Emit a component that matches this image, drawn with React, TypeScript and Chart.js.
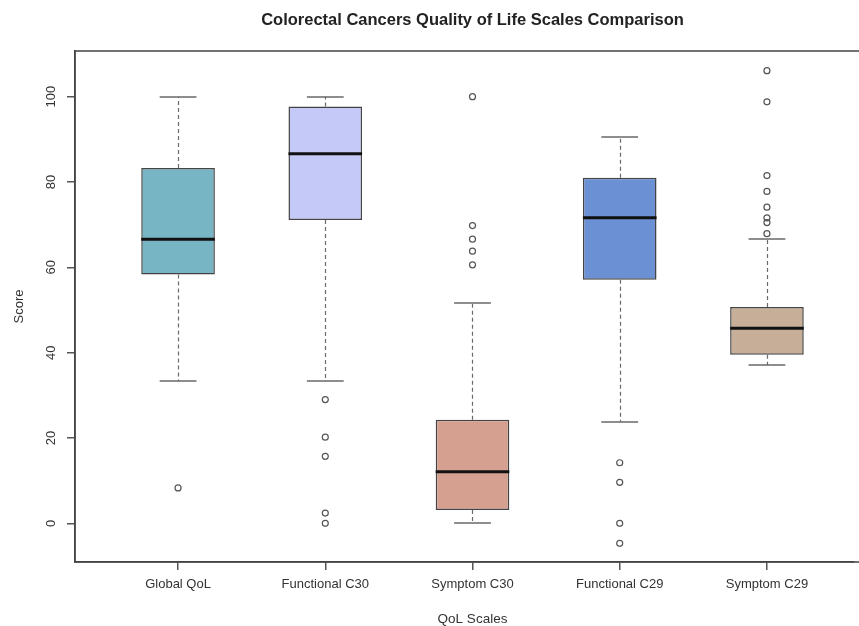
import React, { useEffect, useRef } from "react";
import { Chart, registerables } from "chart.js";

Chart.register(...registerables);

const categories = ["Global QoL", "Functional C30", "Symptom C30", "Functional C29", "Symptom C29"];
const whiskerLow = [33.3, 33.3, 0, 23.8, 37.1];
const q1 = [58.3, 71.1, 3.1, 57.1, 39.5];
const median = [66.6, 86.6, 12.1, 71.6, 45.7];
const q3 = [83.3, 97.7, 24.3, 81.0, 50.7];
const whiskerHigh = [100, 100, 51.6, 90.5, 66.6];
const outliers = [
  [8.3],
  [29.0, 20.2, 15.7, 2.4, 0],
  [100, 69.8, 66.6, 63.8, 60.6],
  [14.2, 9.6, 0, -4.7],
  [106.1, 98.8, 81.5, 77.8, 74.1, 71.6, 70.5, 67.9],
];
const boxColors = ["#77B5C4", "#C4C9F7", "#D6A091", "#6B91D4", "#C7AE98"];
const yTicks = [0, 20, 40, 60, 80, 100];
const yMin = -9.07;
const yMax = 110.71;
const xMin = 0.3;
const xMax = 5.59;
const title = "Colorectal Cancers Quality of Life Scales Comparison";
const xTitle = "QoL Scales";
const yTitle = "Score";

const FONT = "'Liberation Sans', Arial, Helvetica, sans-serif";

const boxPlugin = {
  id: "boxExtras",
  afterDatasetsDraw(chart: any) {
    const { ctx, chartArea, scales } = chart;
    const xs = scales.x;
    const ys = scales.y;
    ctx.save();
    categories.forEach((_, i) => {
      const c = i + 1;
      const xc = Math.round(xs.getPixelForValue(c)) + 0.5;
      const capL = xs.getPixelForValue(c - 0.125);
      const capR = xs.getPixelForValue(c + 0.125);
      ctx.strokeStyle = "#6a6a6a";
      ctx.lineWidth = 1.2;
      ctx.setLineDash([4, 3]);
      ctx.beginPath();
      ctx.moveTo(xc, ys.getPixelForValue(q3[i]));
      ctx.lineTo(xc, ys.getPixelForValue(whiskerHigh[i]));
      ctx.moveTo(xc, ys.getPixelForValue(q1[i]));
      ctx.lineTo(xc, ys.getPixelForValue(whiskerLow[i]));
      ctx.stroke();
      ctx.setLineDash([]);
      ctx.lineWidth = 1.5;
      ctx.beginPath();
      const yh = Math.round(ys.getPixelForValue(whiskerHigh[i]));
      const yl = Math.round(ys.getPixelForValue(whiskerLow[i]));
      ctx.moveTo(capL, yh);
      ctx.lineTo(capR, yh);
      ctx.moveTo(capL, yl);
      ctx.lineTo(capR, yl);
      ctx.stroke();
      ctx.strokeStyle = "#111";
      ctx.lineWidth = 3;
      ctx.beginPath();
      const ym = ys.getPixelForValue(median[i]);
      ctx.moveTo(xs.getPixelForValue(c - 0.25), ym);
      ctx.lineTo(xs.getPixelForValue(c + 0.25), ym);
      ctx.stroke();
    });
    ctx.strokeStyle = "#444";
    ctx.lineWidth = 1.5;
    ctx.strokeRect(chartArea.left, chartArea.top, chartArea.right - chartArea.left + 40, chartArea.bottom - chartArea.top);
    const xCenter = xs.getPixelForValue((xMin + 5.7) / 2);
    ctx.fillStyle = "#222";
    ctx.textAlign = "center";
    ctx.textBaseline = "middle";
    ctx.font = `bold 16.5px ${FONT}`;
    ctx.fillText(title, xCenter, 20);
    ctx.fillStyle = "#333";
    ctx.font = `13.5px ${FONT}`;
    ctx.fillText(xTitle, xCenter, 619);
    ctx.restore();
  },
};

export default function App() {
  const ref = useRef<HTMLCanvasElement | null>(null);
  useEffect(() => {
    if (!ref.current) return;
    const chart = new Chart(ref.current, {
      type: "bar",
      data: {
        datasets: [
          {
            type: "bar",
            label: "IQR",
            data: categories.map((_, i) => ({ x: i + 1, y: [q1[i], q3[i]] })) as any,
            backgroundColor: boxColors,
            borderColor: "#444",
            borderWidth: 1.5,
            borderSkipped: false,
            categoryPercentage: 1,
            barPercentage: 0.5,
          } as any,
          {
            type: "scatter",
            label: "Outliers",
            data: outliers.flatMap((arr, i) => arr.map((v) => ({ x: i + 1, y: v }))),
            pointStyle: "circle",
            pointRadius: 3,
            backgroundColor: "rgba(0,0,0,0)",
            borderColor: "#555",
            borderWidth: 1.2,
          } as any,
        ],
      },
      options: {
        animation: false,
        responsive: false,
        maintainAspectRatio: false,
        layout: { padding: { top: 51, left: 0, right: 0, bottom: 0 } },
        plugins: {
          legend: { display: false },
          tooltip: { enabled: false },
          title: { display: false },
        },
        scales: {
          x: {
            type: "linear",
            offset: false,
            min: xMin,
            max: xMax,
            afterBuildTicks: (scale: any) => {
              scale.ticks = categories.map((_, i) => ({ value: i + 1 }));
            },
            afterFit: (scale: any) => {
              scale.height = 64;
            },
            ticks: {
              autoSkip: false,
              maxRotation: 0,
              minRotation: 0,
              padding: 7,
              color: "#333",
              font: { family: FONT, size: 13 },
              callback: (v: any) => categories[Math.round(Number(v)) - 1] ?? "",
            },
            grid: { offset: false, drawOnChartArea: false, drawTicks: true, tickLength: 8, color: "#555", lineWidth: 1.5 },
            border: { display: true, color: "#444", width: 1.5 },
          },
          y: {
            type: "linear",
            min: yMin,
            max: yMax,
            afterBuildTicks: (scale: any) => {
              scale.ticks = yTicks.map((v) => ({ value: v }));
            },
            afterFit: (scale: any) => {
              scale.width = 75;
            },
            ticks: {
              minRotation: 90,
              maxRotation: 90,
              crossAlign: "center",
              padding: 5,
              color: "#333",
              font: { family: FONT, size: 13 },
            },
            grid: { drawOnChartArea: false, drawTicks: true, tickLength: 8, color: "#555", lineWidth: 1.5 },
            border: { display: true, color: "#444", width: 1.5 },
            title: {
              display: true,
              text: yTitle,
              color: "#333",
              font: { family: FONT, size: 13 },
              padding: { top: 12, bottom: 0 },
            },
          },
        },
      },
      plugins: [boxPlugin],
    });
    return () => chart.destroy();
  }, []);
  return (
    <div style={{ position: "absolute", left: 0, top: 0, width: 859, height: 626, background: "#fff" }}>
      <canvas ref={ref} width={859} height={626} style={{ display: "block" }} />
    </div>
  );
}
